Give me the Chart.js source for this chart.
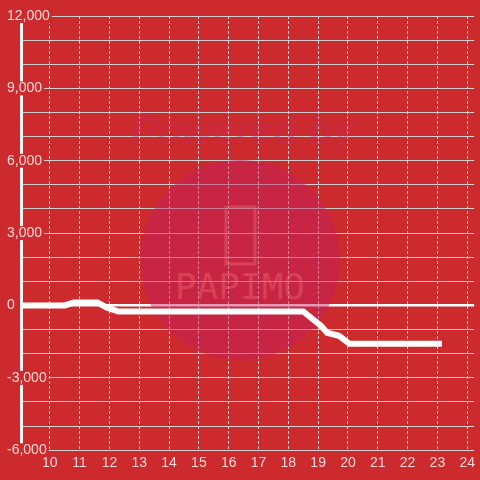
<!DOCTYPE html>
<html>
<head>
<meta charset="utf-8">
<script src="https://cdn.jsdelivr.net/npm/chart.js@4/dist/chart.umd.min.js"></script>
<style>
  html, body { margin: 0; padding: 0; background: #cd2a2e; }
  #wrap { width: 480px; height: 480px; }
</style>
</head>
<body>
<div id="wrap"><canvas id="chart" width="480" height="480"></canvas></div>
<script>
// hours (x) and values (y) of the line
const xValues = [9.0, 10.5, 10.8, 11.6, 11.9, 12.3, 18.5, 19.1, 19.3, 19.7, 20.05, 23.15];
const yValues = [0, 0, 120, 120, -80, -250, -250, -850, -1130, -1260, -1590, -1590];
const xTicks = [10, 11, 12, 13, 14, 15, 16, 17, 18, 19, 20, 21, 22, 23, 24];
const yLabelTicks = [-6000, -3000, 0, 3000, 6000, 9000, 12000];

const bgRed = '#cd2a2e';

const points = xValues.map((x, i) => ({ x: x, y: yValues[i] }));

// background + faint watermark
const backdrop = {
  id: 'backdrop',
  beforeDraw(chart) {
    const c = chart.ctx;
    c.save();
    c.fillStyle = bgRed;
    c.fillRect(0, 0, chart.width, chart.height);
    c.restore();
  },
  beforeDatasetsDraw(chart) {
    const c = chart.ctx;
    c.save();
    c.fillStyle = 'rgba(195, 30, 95, 0.45)';
    c.beginPath();
    c.arc(240, 260, 100, 0, Math.PI * 2);
    c.fill();
    c.fillStyle = 'rgba(200, 40, 95, 0.3)';
    c.font = 'italic bold 40px "Liberation Sans", Arial';
    c.textAlign = 'center';
    c.textBaseline = 'middle';
    c.fillText('Powered by', 243, 133);
    c.strokeStyle = 'rgba(235, 110, 120, 0.4)';
    c.lineWidth = 3;
    c.strokeRect(226, 207, 29, 57);
    c.fillStyle = 'rgba(235, 110, 120, 0.4)';
    c.font = '36px "DejaVu Sans Mono", monospace';
    c.fillText('PAPIMO', 240, 290);
    c.restore();
  }
};

const ctx = document.getElementById('chart').getContext('2d');

const myChart = new Chart(ctx, {
  type: 'line',
  data: {
    datasets: [{
      data: points,
      borderColor: '#ffffff',
      borderWidth: 6,
      borderCapStyle: 'butt',
      pointRadius: 0,
      tension: 0,
      fill: false
    }]
  },
  options: {
    responsive: false,
    animation: false,
    layout: { padding: { top: 16, right: 0, bottom: 3, left: 2 } },
    plugins: {
      legend: { display: false },
      tooltip: { enabled: false }
    },
    scales: {
      x: {
        type: 'linear',
        min: 9.0333,
        max: 24.233,
        afterBuildTicks(scale) {
          scale.ticks = xTicks.map(v => ({ value: v }));
        },
        ticks: {
          color: 'rgba(255, 235, 235, 0.9)',
          font: { family: '"Liberation Sans", Arial', size: 14 },
          padding: 5,
          maxRotation: 0,
          callback: v => String(v)
        },
        grid: {
          color: 'rgba(235, 235, 235, 0.85)',
          lineWidth: 1,
          drawTicks: false
        },
        border: { display: false, dash: [3, 2] }
      },
      y: {
        min: -6000,
        max: 12000,
        afterBuildTicks(scale) {
          const t = [];
          for (let v = -6000; v <= 12000; v += 1000) t.push({ value: v });
          scale.ticks = t;
        },
        afterFit(scale) {
          scale.width = 19;
        },
        ticks: {
          mirror: true,
          padding: -14,
          crossAlign: 'near',
          color: 'rgba(255, 235, 235, 0.9)',
          font: { family: '"Liberation Sans", Arial', size: 14, lineHeight: 1 },
          showLabelBackdrop: true,
          backdropPadding: { left: 2, right: 2, top: 0, bottom: 0 },
          backdropColor: c => yLabelTicks.includes(c.tick.value) ? bgRed : 'rgba(0,0,0,0)',
          callback: v => yLabelTicks.includes(v) ? v.toLocaleString('en-US') : ''
        },
        grid: {
          color: c => c.tick.value === 0 ? '#ffffff' : '#cfcfcf',
          lineWidth: c => c.tick.value === 0 ? 2.5 : 1,
          drawTicks: true,
          tickLength: 49,
          tickColor: 'rgba(0,0,0,0)'
        },
        border: { display: true, color: '#f4f4f4', width: 3 }
      }
    }
  },
  plugins: [backdrop]
});
</script>
</body>
</html>
